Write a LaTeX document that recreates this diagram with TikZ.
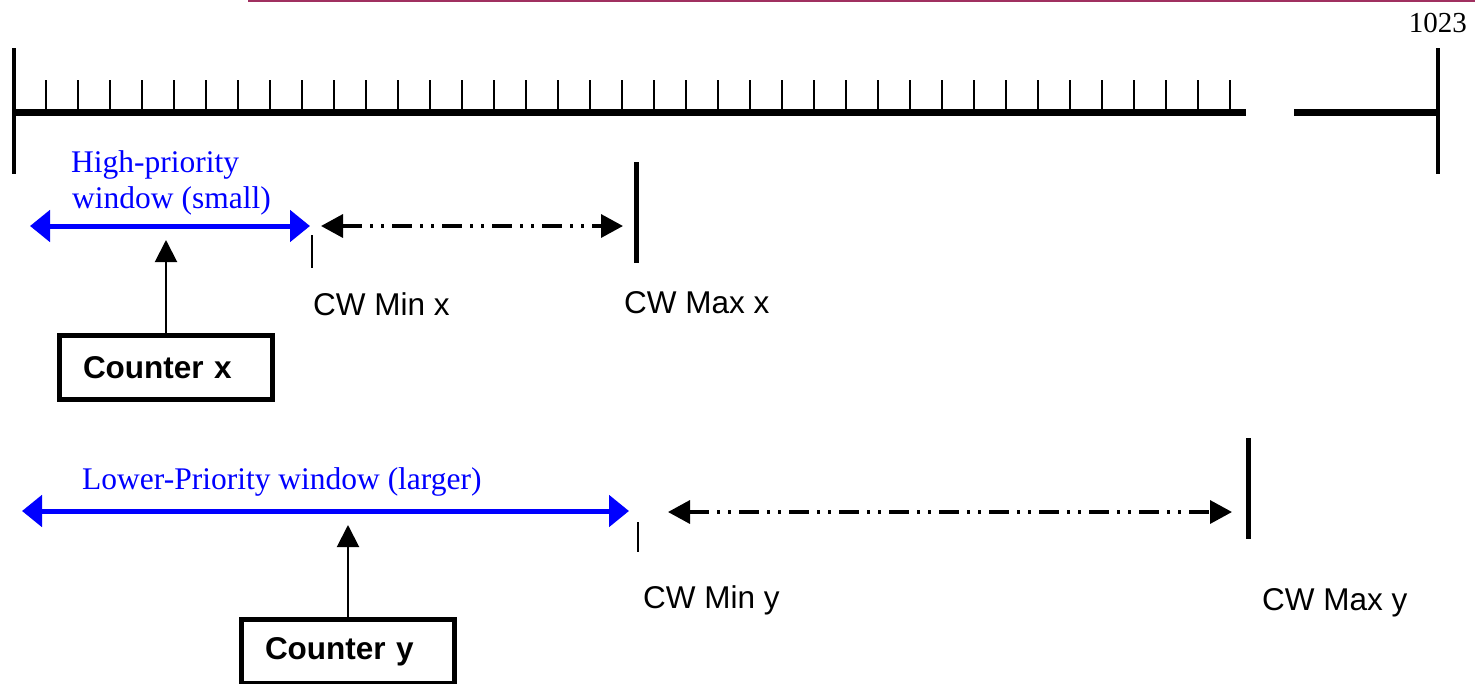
\documentclass[tikz,border=0pt]{standalone}
\usepackage{fontspec}
\setmainfont{Liberation Serif}
\setsansfont{Liberation Sans}
\usetikzlibrary{arrows.meta}
\definecolor{rule}{RGB}{160,48,96}
\definecolor{winblue}{RGB}{0,0,255}
\tikzset{
  serifnum/.style={font=\fontsize{29}{34}\selectfont, inner sep=0pt},
  bluetext/.style={font=\fontsize{31.5}{36}\selectfont, text=winblue, inner sep=0pt, anchor=base west},
  cwlabel/.style={font=\sffamily\fontsize{31.5}{36}\selectfont, inner sep=0pt, anchor=base west},
  counterbox/.style={draw, line width=5pt, font=\sffamily\bfseries\fontsize{31.5}{36}\selectfont,
    minimum width=213pt, minimum height=64pt, text width=166pt, align=left, inner xsep=23.5pt, inner ysep=0pt},
  axisline/.style={line width=7pt},
  endbar/.style={line width=3.5pt},
  minortick/.style={line width=2pt},
  maxbar/.style={line width=5pt},
  window/.style={line width=5pt, draw=winblue, {Triangle[length=20pt,width=31pt,fill=winblue]}-{Triangle[length=20pt,width=31pt,fill=winblue]}},
  cwrange/.style={line width=3.5pt, dash pattern=on 20pt off 8pt on 3pt off 8pt on 3pt off 8pt,
    {Triangle[length=22pt,width=23pt]}-{Triangle[length=22pt,width=23pt]}},
  pointer/.style={line width=2pt, -{Triangle[length=22pt,width=22pt]}}
}
\begin{document}
\begin{tikzpicture}[x=1pt, y=-1pt]
\useasboundingbox (0,0) rectangle (1475,683);
\clip (0,0) rectangle (1475,683);

% header rule
\draw[rule, line width=2pt] (248,1) -- (1475,1);

% counter scale 0 .. 1023
\node[serifnum, anchor=base east] (maxval) at (1467,32) {1023};
\draw[axisline] (14,112) -- (1246,112);
\draw[axisline] (1294,112) -- (1438,112);
\draw[endbar] (14,48) -- (14,174);
\draw[endbar] (1438,48) -- (1438,174);
\foreach \i in {0,...,37}
  \draw[minortick] ({46+32*\i},80) -- ({46+32*\i},109);

% high-priority window (x)
\node[bluetext] (hpa) at (71,172) {High-priority};
\node[bluetext] (hpb) at (72,208) {window (small)};
\coordinate (wxl) at (30,226);
\coordinate (wxr) at (310,226);
\draw[window] (wxl) -- (wxr);
\draw[minortick] (312,235) -- (312,268);
\coordinate (rxl) at (321,226);
\coordinate (rxr) at (623,226);
\draw[cwrange] (rxl) -- (rxr);
\draw[maxbar] (636,162) -- (636,263);
\node[cwlabel] (minx) at (313,315) {CW Min x};
\node[cwlabel] (maxx) at (624,313) {CW Max x};
\node[counterbox] (cx) at (166,367.5) {Counter x};
\coordinate (px) at (166,240);
\draw[pointer] (cx.north) -- (px);

% lower-priority window (y)
\node[bluetext] (lp) at (82,489) {Lower-Priority window (larger)};
\coordinate (wyl) at (22,511);
\coordinate (wyr) at (629,511);
\draw[window] (wyl) -- (wyr);
\draw[minortick] (638,522) -- (638,552);
\coordinate (ryl) at (668,512);
\coordinate (ryr) at (1232,512);
\draw[cwrange] (ryl) -- (ryr);
\draw[maxbar] (1248,438) -- (1248,539);
\node[cwlabel] (miny) at (643,608) {CW Min y};
\node[cwlabel] (maxy) at (1262,610) {CW Max y};
\node[counterbox] (cy) at (348,651.5) {Counter y};
\coordinate (py) at (348,525);
\draw[pointer] (cy.north) -- (py);
\end{tikzpicture}
\end{document}
